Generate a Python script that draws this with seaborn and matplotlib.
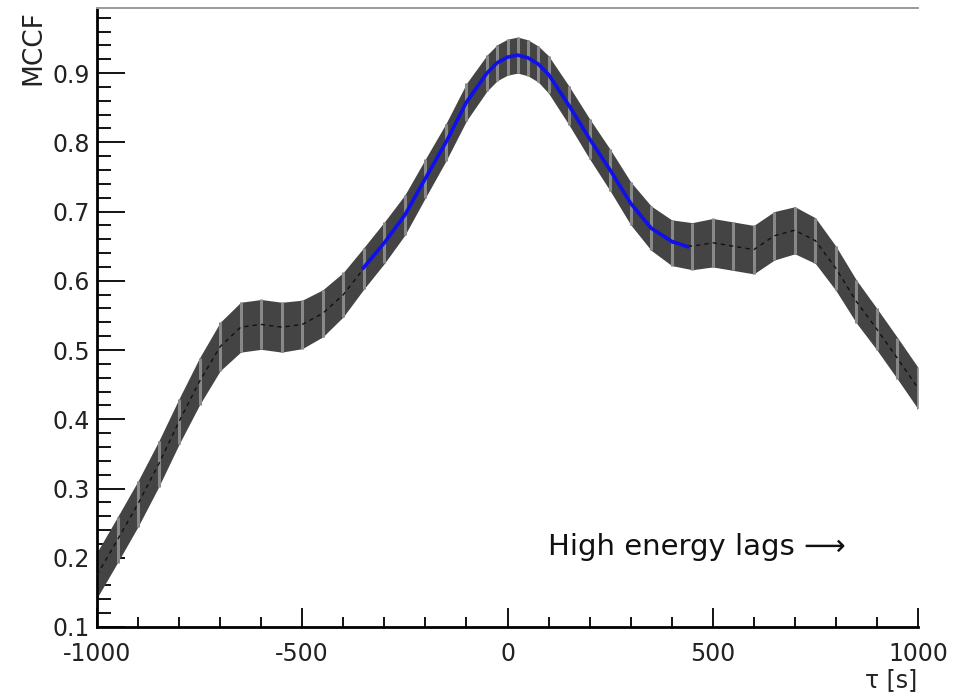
import matplotlib
matplotlib.use("Agg")
import matplotlib.pyplot as plt
import seaborn as sns
import numpy as np
import pandas as pd
from matplotlib.ticker import MultipleLocator

# ---- data ----
tau = [-1000, -950, -900, -850, -800, -750, -700, -650, -600, -550, -500,
       -450, -400, -350, -300, -250, -200, -150, -100, -50, -25, 0, 25, 50,
       75, 100, 150, 200, 250, 300, 350, 400, 450, 500, 550, 600, 650, 700,
       750, 800, 850, 900, 950, 1000]
mccf = [0.175, 0.226, 0.278, 0.335, 0.397, 0.455, 0.505, 0.533, 0.537,
        0.533, 0.537, 0.553, 0.580, 0.618, 0.655, 0.695, 0.748, 0.800,
        0.858, 0.900, 0.915, 0.923, 0.926, 0.922, 0.913, 0.898, 0.853,
        0.805, 0.760, 0.712, 0.676, 0.655, 0.650, 0.655, 0.650, 0.645,
        0.665, 0.673, 0.658, 0.618, 0.570, 0.530, 0.488, 0.445]
err = [0.033, 0.033, 0.033, 0.033, 0.033, 0.034, 0.035, 0.036, 0.036,
       0.036, 0.035, 0.034, 0.032, 0.030, 0.030, 0.029, 0.028, 0.027,
       0.027, 0.026, 0.026, 0.026, 0.026, 0.026, 0.026, 0.027, 0.028,
       0.029, 0.030, 0.031, 0.032, 0.033, 0.034, 0.035, 0.035, 0.035,
       0.035, 0.034, 0.033, 0.032, 0.031, 0.030, 0.030, 0.030]

fit_tau = [-352, -300, -250, -200, -150, -100, -50, -25, 0, 25, 50, 75,
           100, 150, 200, 250, 300, 350, 400, 440]
fit_val = [0.618, 0.655, 0.695, 0.748, 0.800, 0.858, 0.900, 0.915, 0.923,
           0.926, 0.922, 0.913, 0.898, 0.853, 0.805, 0.760, 0.712, 0.676,
           0.657, 0.649]

x_major = [-1000, -500, 0, 500, 1000]
y_major = [0.1, 0.2, 0.3, 0.4, 0.5, 0.6, 0.7, 0.8, 0.9]

sns.set_theme(style="white")
plt.rcParams['font.family'] = ['DejaVu Sans']
plt.rcParams['axes.unicode_minus'] = False

fig = plt.figure(figsize=(9.67, 6.96), dpi=100)
ax = fig.add_axes([97/967, 1 - 627/696, (918 - 97)/967, (627 - 8)/696])

df = pd.DataFrame({"tau": tau, "mccf": mccf, "err": err})
df["lo"] = df["mccf"] - df["err"]
df["hi"] = df["mccf"] + df["err"]

# error band (vertical error bars look)
ax.fill_between(df["tau"], df["lo"], df["hi"], color="#444444", lw=0, zorder=1)
ax.vlines(df["tau"], df["lo"], df["hi"], colors="#888888", lw=2.2, zorder=2)

sns.lineplot(data=df, x="tau", y="mccf", ax=ax, color="#111111", lw=1.0,
             linestyle=(0, (3, 3)), zorder=3)
fit_df = pd.DataFrame({"tau": fit_tau, "val": fit_val})
sns.lineplot(data=fit_df, x="tau", y="val", ax=ax, color="#1010ee", lw=2.6,
             zorder=4)

ax.set_xlim(-1000, 1000)
ax.set_ylim(0.1, 0.994)
ax.set_xticks(x_major)
ax.set_xticklabels([str(v) for v in x_major])
ax.set_yticks(y_major)
ax.set_yticklabels([f"{v:.1f}" for v in y_major])
ax.xaxis.set_minor_locator(MultipleLocator(100))
ax.yaxis.set_minor_locator(MultipleLocator(0.02))

ax.tick_params(axis="both", which="both", direction="in", colors="black",
               labelsize=17, labelcolor="#222222")
ax.tick_params(axis="y", which="major", length=20, width=1.3, pad=5,
               left=True, right=False)
ax.tick_params(axis="y", which="minor", length=10, width=1.3,
               left=True, right=False)
ax.tick_params(axis="x", which="major", length=14, width=1.3, pad=11,
               bottom=True, top=False)
ax.tick_params(axis="x", which="minor", length=7, width=1.3,
               bottom=True, top=False)

ax.set_xlabel("")
ax.set_ylabel("")

for s in ["left", "bottom"]:
    ax.spines[s].set_color("black")
    ax.spines[s].set_linewidth(2.0)
ax.spines["top"].set_color("#9a9a9a")
ax.spines["top"].set_linewidth(1.4)
ax.spines["right"].set_visible(False)

ax.text(0.549, 0.129, "High energy lags \u27f6", transform=ax.transAxes,
        fontsize=21, color="#111111", va="center", ha="left")

fig.text(33/967, 1 - 10/696, "MCCF", rotation=90, ha="center", va="top",
         fontsize=19, color="#222222")
fig.text(917/967, 1 - 680/696, "\u03c4 [s]", ha="right", va="center",
         fontsize=17, color="#222222")

fig.savefig("out.png", dpi=100, facecolor="white")
